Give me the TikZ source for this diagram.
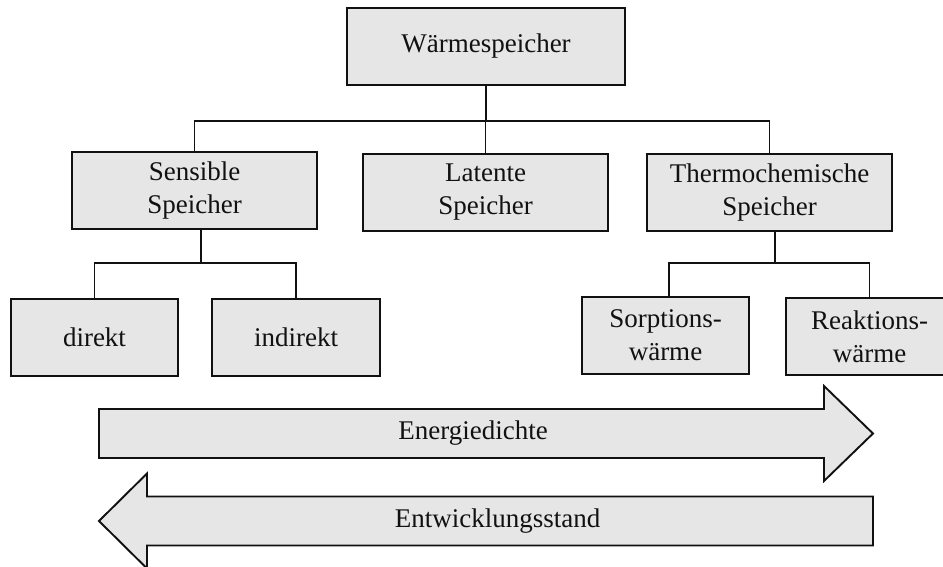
\documentclass[tikz,border=0pt]{standalone}
\usepackage{fontspec}
\setmainfont{Liberation Serif}
\definecolor{boxgray}{HTML}{E6E6E6}
\definecolor{inkcol}{HTML}{111111}
\begin{document}
\begin{tikzpicture}[x=1pt,y=-1pt,line width=1.9pt,draw=inkcol,
  box/.style={draw=inkcol, fill=boxgray, inner sep=0pt, align=center, minimum height=77pt, text=inkcol, font=\fontsize{27}{33}\selectfont},
  lbl/.style={inner sep=0pt, text=inkcol, font=\fontsize{27}{33}\selectfont},
  arrowshape/.style={draw=inkcol, fill=boxgray, line join=miter}]
\useasboundingbox (0,0) rectangle (943,567);
\clip (0,0) rectangle (943,567);
% boxes
\node[box, minimum width=278pt] (root) at (486,46.5) {Wärmespeicher};
\node[box, minimum width=245pt] (sens) at (194.5,190.5) {Sensible\\Speicher};
\node[box, minimum width=245pt] (lat) at (485.5,192.5) {Latente\\Speicher};
\node[box, minimum width=245pt] (thermo) at (769.5,192.5) {Thermochemische\\Speicher};
\node[box, minimum width=167pt] (direkt) at (94.5,337.5) {direkt};
\node[box, minimum width=168pt] (indirekt) at (296,337.5) {indirekt};
\node[box, minimum width=167pt] (sorp) at (665.5,335.5) {Sorptions-\\wärme};
\node[box, minimum width=167pt] (reak) at (869.5,336.5) {Reaktions-\\wärme};
% connectors
\draw[inkcol] (root.south) -- (root.south |- 0,121);
\draw[inkcol] (sens.north) -- (sens.north |- 0,121) -- (thermo.north |- 0,121) -- (thermo.north);
\draw[inkcol] (lat.north) -- (lat.north |- 0,121);
\draw[inkcol] ([xshift=6.5pt]sens.south) -- ([xshift=6.5pt]sens.south |- 0,263);
\draw[inkcol] (direkt.north) -- (direkt.north |- 0,263) -- (indirekt.north |- 0,263) -- (indirekt.north);
\draw[inkcol] ([xshift=5.5pt]thermo.south) -- ([xshift=5.5pt]thermo.south |- 0,263);
\draw[inkcol] ([xshift=3.5pt]sorp.north) -- ([xshift=3.5pt]sorp.north |- 0,263) -- (reak.north |- 0,263) -- (reak.north);
% big arrows
\draw[arrowshape] (99,409) -- (824,409) -- (824,386) -- (873,433.5) -- (824,481) -- (824,458) -- (99,458) -- cycle;
\node[lbl] (ed) at (473,433.5) {Energiedichte};
\draw[arrowshape] (873,496.5) -- (147,496.5) -- (147,473.5) -- (99,521) -- (147,568.5) -- (147,545.5) -- (873,545.5) -- cycle;
\node[lbl] (ew) at (497.5,521) {Entwicklungsstand};
\end{tikzpicture}
\end{document}
